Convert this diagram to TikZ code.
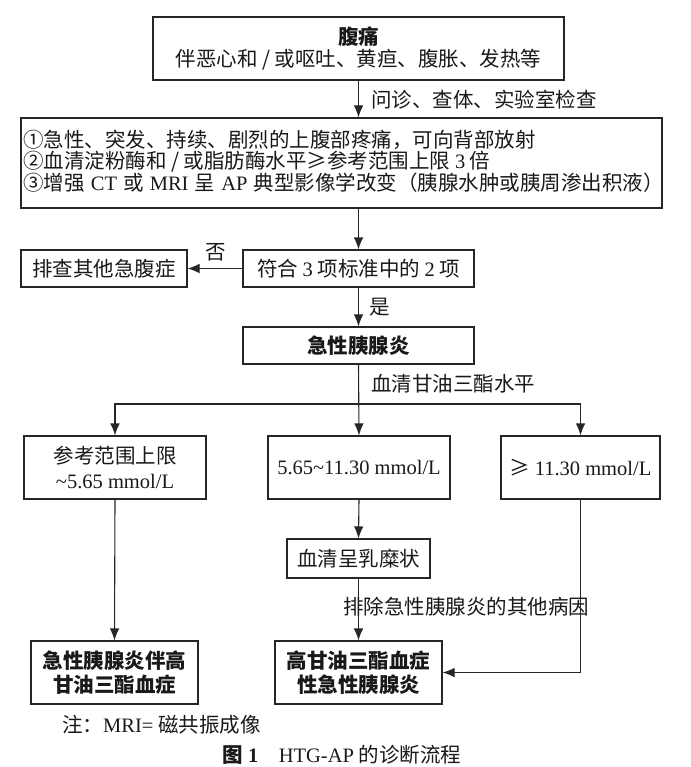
\documentclass[tikz,border=0pt]{standalone}
\usepackage{fontspec}
\setmainfont{Noto Sans CJK SC}
\newfontfamily\tm{Liberation Serif}
\usetikzlibrary{arrows.meta}
\begin{document}
\begin{tikzpicture}[x=1pt,y=-1pt,
  every node/.style={font=\fontsize{20.5}{22}\selectfont, inner sep=0pt, text=black!90},
  box/.style={draw=black!85, line width=1.1pt, align=center},
  arr/.style={draw=black!85, line width=1.1pt, -{Latex[length=12pt,width=9.5pt]}},
  ln/.style={draw=black!85, line width=1.1pt},
  lbl/.style={anchor=west}]
\useasboundingbox[fill=white] (0,0) rectangle (690,767);
% boxes
\node[box, minimum width=411pt, minimum height=63pt] (top) at (358.5,48.5)
  {{\bfseries 腹痛}\\伴恶心和 / 或呕吐、黄疸、腹胀、发热等};
\node[box, minimum width=641pt, minimum height=90pt] (crit) at (341.5,163) {};
\node[anchor=west, align=left, font=\fontsize{20.5}{21}\selectfont] (crittext) at (23,161)
  {①急性、突发、持续、剧烈的上腹部疼痛，可向背部放射\\
   ②血清淀粉酶和 / 或脂肪酶水平≥参考范围上限 {\tm 3} 倍\\
   ③增强\hspace{0.3em}{\tm CT}\hspace{0.3em}或\hspace{0.3em}{\tm MRI}\hspace{0.3em}呈\hspace{0.3em}{\tm AP}\hspace{0.3em}典型影像学改变（胰腺水肿或胰周渗出积液）};
\node[box, minimum width=231pt, minimum height=37pt] (fuhe) at (358.5,268.5)
  {符合 {\tm 3} 项标准中的 {\tm 2} 项};
\node[box, minimum width=166pt, minimum height=37pt] (paicha) at (104,268.5) {排查其他急腹症};
\node[box, minimum width=231pt, minimum height=37pt] (acute) at (358.5,345.5) {\bfseries 急性胰腺炎};
\node[box, minimum width=182pt, minimum height=63pt, font=\fontsize{20.5}{25}\selectfont] (b1) at (115,467.5)
  {参考范围上限\\{\tm \char`~5.65 mmol/L}};
\node[box, minimum width=182pt, minimum height=63pt] (b2) at (359,467.5) {{\tm 5.65\char`~11.30 mmol/L}};
\node[box, minimum width=159pt, minimum height=63pt] (b3) at (580.5,467.5) {≥ {\tm 11.30 mmol/L}};
\node[box, minimum width=143pt, minimum height=39pt] (milky) at (358.5,558.5) {血清呈乳糜状};
\node[box, minimum width=167pt, minimum height=63pt, font=\fontsize{20.5}{24}\selectfont\bfseries] (bl) at (114.5,672.5)
  {急性胰腺炎伴高\\甘油三酯血症};
\node[box, minimum width=167pt, minimum height=63pt, font=\fontsize{20.5}{24}\selectfont\bfseries] (bm) at (358.5,672.5)
  {高甘油三酯血症\\性急性胰腺炎};
% connectors
\draw[arr] (top.south -| fuhe.north) -- (fuhe.north |- crit.north);
\draw[arr] (fuhe.north |- crit.south) -- (fuhe.north);
\draw[arr] (fuhe.west) -- (paicha.east);
\draw[arr] (fuhe.south) -- (acute.north);
\coordinate (split) at (359,404);
\draw[arr] (acute.south) -- (b2.north);
\draw[arr] (split) -| (b1.north);
\draw[arr] (split) -| (b3.north);
\draw[arr] (b2.south) -- (milky.north);
\draw[arr] (milky.south) -- (bm.north);
\draw[arr] (b1.south) -- (bl.north);
\draw[arr] (b3.south) |- (bm.east);
% labels
\node[lbl] (l1) at (371,100) {问诊、查体、实验室检查};
\node (l2) at (216,252) {否};
\node (l3) at (380,307) {是};
\node[lbl] (l4) at (371,384) {血清甘油三酯水平};
\node[lbl] (l5) at (343,607) {排除急性胰腺炎的其他病因};
\node[lbl] (note) at (62,725) {注：{\tm MRI=} 磁共振成像};
\node (cap) at (342,755) {{\bfseries 图 {\tm 1}}\quad{\tm HTG-AP} 的诊断流程};
\end{tikzpicture}
\end{document}
